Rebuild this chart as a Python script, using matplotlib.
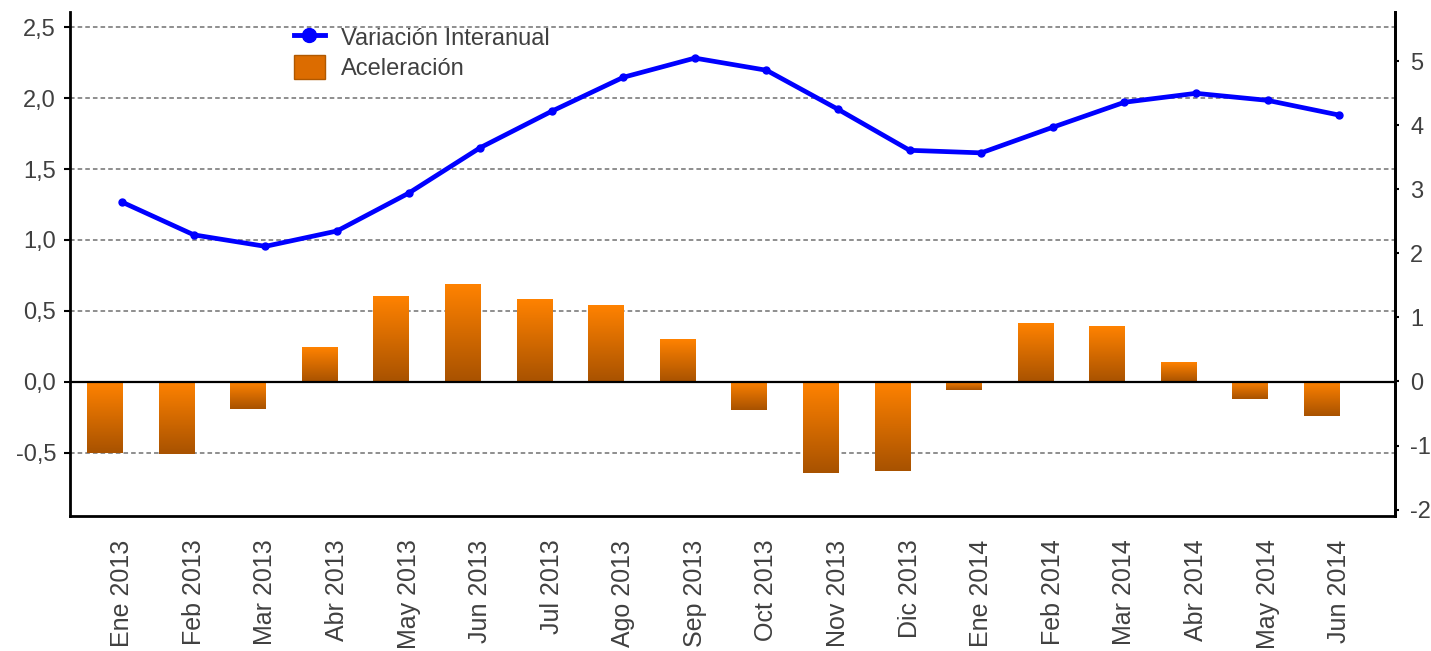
import matplotlib
matplotlib.use('Agg')
import matplotlib.pyplot as plt
import numpy as np
from matplotlib.lines import Line2D
from matplotlib.patches import Rectangle
from matplotlib.colors import LinearSegmentedColormap

plt.rcParams['font.family'] = ['Liberation Sans', 'DejaVu Sans']

meses = ['Ene 2013', 'Feb 2013', 'Mar 2013', 'Abr 2013', 'May 2013', 'Jun 2013',
         'Jul 2013', 'Ago 2013', 'Sep 2013', 'Oct 2013', 'Nov 2013', 'Dic 2013',
         'Ene 2014', 'Feb 2014', 'Mar 2014', 'Abr 2014', 'May 2014', 'Jun 2014']
variacion = [2.80, 2.29, 2.11, 2.35, 2.94, 3.65, 4.22, 4.75, 5.05, 4.86, 4.25, 3.61,
             3.57, 3.97, 4.36, 4.50, 4.39, 4.16]
aceleracion = [-0.50, -0.51, -0.19, 0.24, 0.60, 0.69, 0.58, 0.54, 0.30, -0.20, -0.64, -0.63,
               -0.06, 0.41, 0.39, 0.14, -0.12, -0.24]

gris = '#404040'
cmap_barra = LinearSegmentedColormap.from_list('naranja', ['#FF8200', '#A85200'])

fig = plt.figure(figsize=(14.31, 6.51), dpi=100)
ax = fig.add_axes([0.0489, 0.2074, 0.9259, 0.7742])
ax2 = ax.twinx()

x = np.arange(len(meses))

# barras (eje izquierdo), desplazadas a la izquierda de la categoria
barras = ax.bar(x, aceleracion, width=-0.49, align='edge', color='none', zorder=3)
grad = np.linspace(0, 1, 100).reshape(-1, 1)
for b in barras:
    bx, by, bw, bh = b.get_x(), b.get_y(), b.get_width(), b.get_height()
    x0, x1 = sorted([bx, bx + bw])
    y0, y1 = sorted([by, by + bh])
    ax.imshow(grad, cmap=cmap_barra, extent=[x0, x1, y0, y1], origin='upper',
              aspect='auto', zorder=3, interpolation='bilinear')

# linea (eje derecho)
ax2.plot(x, variacion, color='#0000FF', linewidth=3.4, marker='o', markersize=5, zorder=4)

# rejilla
for yv in [-0.5, 0.5, 1.0, 1.5, 2.0, 2.5]:
    ax.axhline(yv, color='#707070', linestyle=(0, (3, 2)), linewidth=1.1, zorder=1)
ax.axhline(0, color='black', linewidth=1.6, zorder=4)

ax.set_xlim(-0.73, 17.78)
ax.set_ylim(-0.944, 2.606)
ax2.set_ylim(-2.10, 5.77)

ax.set_yticks([-0.5, 0.0, 0.5, 1.0, 1.5, 2.0, 2.5])
ax.set_yticklabels(['-0,5', '0,0', '0,5', '1,0', '1,5', '2,0', '2,5'])
ax2.set_yticks(range(-2, 6))
ax2.set_yticklabels([str(v) for v in range(-2, 6)])
ax.set_xticks(x)
ax.set_xticklabels(meses, rotation=90)

ax.tick_params(axis='y', labelsize=17, labelcolor=gris, length=4, width=1.5, pad=6)
ax2.tick_params(axis='y', labelsize=17, labelcolor=gris, length=3, width=1.5, pad=8)
ax.tick_params(axis='x', labelsize=18, labelcolor=gris, length=0, pad=17)

for a in (ax, ax2):
    a.spines['top'].set_visible(False)
    a.spines['left'].set_linewidth(2)
    a.spines['right'].set_linewidth(2)
    a.spines['bottom'].set_linewidth(2)
ax2.spines['left'].set_visible(False)
ax2.spines['bottom'].set_visible(False)

h_linea = Line2D([], [], color='#0000FF', linewidth=3.5, marker='o', markersize=10)
h_barra = Rectangle((0, 0), 1, 1, facecolor='#DC6C00', edgecolor='#B05800', linewidth=1)
leg = ax2.legend([h_linea, h_barra], ['Variación Interanual', 'Aceleración'],
                 loc='upper left', bbox_to_anchor=(294 / 1431, 1 - 25 / 651),
                 bbox_transform=fig.transFigure, frameon=False, fontsize=17,
                 borderpad=0, borderaxespad=0, handlelength=1.3, handleheight=1.2,
                 handletextpad=0.7, labelspacing=0.2)
for t in leg.get_texts():
    t.set_color(gris)

fig.savefig('out.png', dpi=100)
